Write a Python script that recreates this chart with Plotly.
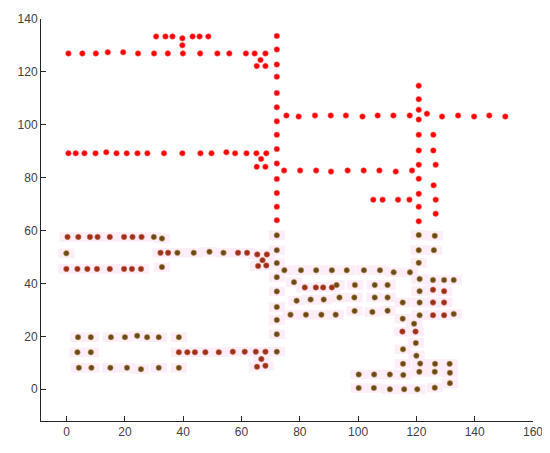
import plotly.graph_objects as go

# ---------------- data ----------------
red_x = [
    30.7, 33.9, 36.3, 39.7, 39.7, 43.2, 45.6, 48.6,
    0.6, 5.4, 10.0, 14.1, 19.4, 24.5, 30.0, 34.7, 39.9, 45.8, 51.7, 55.8, 61.5, 64.5, 68.2,
    66.5, 65.2, 68.2,
    72.1, 72.1, 72.1, 72.1, 72.1, 72.1, 72.1, 72.1, 72.1, 72.1, 72.1, 72.1, 72.1, 72.1,
    0.6, 3.1, 6.1, 9.9, 13.6, 17.1, 20.6, 24.3, 27.7, 33.4, 39.7, 45.9, 49.7, 54.8, 57.8, 61.7, 65.1, 68.5,
    66.7, 65.2, 68.2,
    75.4, 79.6, 85.2, 90.6, 95.8, 101.5, 106.7, 112.1, 117.7, 123.6, 128.8, 134.3, 139.8, 145.0, 150.5,
    120.8, 120.8, 120.8, 120.8, 120.8, 120.8, 120.8, 120.8, 120.8, 120.8, 120.8,
    125.8, 125.8, 126.6, 125.9, 126.6, 126.6,
    74.6, 80.1, 85.6, 90.7, 96.4, 101.9, 107.3, 112.9, 118.5,
    105.2, 108.4, 113.7, 117.6,
]
red_y = [
    133.4, 133.4, 133.4, 132.7, 130.1, 133.4, 133.4, 133.4,
    127.0, 127.0, 127.0, 127.4, 127.4, 127.0, 127.0, 127.0, 127.0, 127.0, 127.0, 127.0, 127.0, 127.0, 127.0,
    124.5, 122.2, 122.2,
    133.6, 128.5, 122.8, 118.2, 112.0, 106.6, 101.3, 96.2, 90.8, 85.4, 79.5, 74.2, 69.0, 63.9,
    89.2, 89.2, 89.2, 89.2, 89.6, 89.2, 89.2, 89.2, 89.2, 89.2, 89.2, 89.2, 89.2, 89.6, 89.2, 89.2, 89.2, 89.2,
    87.1, 84.1, 84.1,
    103.5, 103.1, 103.5, 103.5, 103.5, 103.1, 103.5, 103.5, 103.5, 104.2, 103.1, 103.5, 103.1, 103.5, 103.1,
    114.8, 109.7, 105.7, 102.0, 96.2, 90.3, 84.9, 79.6, 73.9, 69.0, 63.5,
    96.2, 90.3, 84.9, 77.1, 71.7, 66.4,
    82.7, 82.7, 82.7, 82.3, 82.7, 82.7, 82.7, 82.3, 82.7,
    71.7, 71.7, 71.7, 71.7,
]

brown_x = [
    72.1, 72.1, 72.1, 72.1, 72.1, 72.1, 72.1, 72.1, 72.1,
    29.9, 32.7, -0.1, 32.7,
    38.0, 43.6, 49.0, 53.8,
    3.9, 8.3, 15.2, 20.0, 24.2, 27.6, 31.6, 38.5,
    3.7, 8.3,
    4.2, 8.5, 15.0, 20.7, 25.5, 31.6, 38.5,
    74.7, 80.4, 85.6, 91.0, 96.1, 102.0, 107.5, 112.2, 117.8,
    78.0, 92.6, 98.9, 105.7, 110.1,
    78.9, 83.7, 88.2, 93.6, 98.7, 105.7, 110.1, 115.3,
    76.8, 82.1, 87.4, 92.3, 98.8, 104.9, 110.1, 115.3,
    120.8, 120.8, 120.8, 121.1, 121.1, 121.1, 121.1,
    126.3, 126.0, 125.7, 129.5, 132.8, 132.8,
    119.2, 119.8, 115.4, 120.0, 115.4, 121.3, 126.4, 131.4,
    100.2, 105.5, 110.9, 115.5, 121.0, 126.3, 131.5, 131.5,
    100.2, 105.4, 110.9, 115.8, 120.3, 126.3,
]
brown_y = [
    58.2, 52.6, 47.7, 42.4, 37.0, 31.1, 26.2, 20.8, 14.2,
    57.6, 57.0, 51.4, 46.2,
    51.6, 51.6, 52.0, 51.6,
    19.7, 19.7, 19.7, 19.7, 20.2, 19.7, 19.7, 19.7,
    14.0, 14.0,
    8.1, 8.1, 8.1, 8.1, 7.6, 8.1, 8.1,
    45.0, 45.0, 45.0, 45.0, 45.0, 45.0, 45.0, 44.2, 44.2,
    40.5, 39.4, 39.4, 39.4, 39.4,
    33.5, 33.9, 33.9, 34.7, 34.7, 34.7, 34.7, 32.8,
    28.2, 28.2, 28.2, 28.2, 29.6, 29.2, 29.7, 26.7,
    58.3, 52.6, 47.8, 41.7, 37.1, 32.8, 28.0,
    58.0, 52.6, 41.3, 41.3, 41.3, 28.5,
    24.8, 17.5, 15.1, 12.7, 9.6, 9.7, 9.6, 9.6,
    5.6, 5.6, 5.6, 5.4, 6.6, 6.6, 6.2, 2.3,
    0.5, 0.5, 0.0, 0.0, 0.0, 0.6,
]

rb_x = [
    0.3, 4.0, 8.0, 10.6, 14.8, 19.7, 22.6, 25.7,
    -0.1, 3.7, 7.1, 10.4, 14.8, 19.7, 22.4, 25.5,
    32.2, 34.8, 58.8, 61.9, 65.4, 68.7,
    67.2, 65.7, 68.5,
    38.5, 41.4, 44.0, 47.6, 52.2, 57.0, 61.1, 64.9, 68.2,
    66.8, 65.3, 68.2,
    81.7, 85.5, 88.0, 91.0,
    125.7, 129.5, 125.7, 129.5, 125.7, 129.5,
    115.2, 119.7,
]
rb_y = [
    57.6, 57.6, 57.6, 57.6, 57.6, 57.6, 57.6, 57.6,
    45.5, 45.5, 45.5, 45.5, 45.5, 45.5, 45.5, 45.5,
    51.6, 51.6, 51.6, 51.6, 51.0, 51.0,
    48.8, 46.6, 46.8,
    14.0, 14.0, 14.0, 14.0, 14.0, 14.2, 14.2, 14.2, 14.2,
    11.4, 8.5, 8.9,
    38.5, 38.5, 38.5, 38.5,
    37.6, 37.1, 32.8, 32.8, 28.0, 28.0,
    21.8, 21.8,
]

x_ticks = [0, 20, 40, 60, 80, 100, 120, 140, 160]
y_ticks = [0, 20, 40, 60, 80, 100, 120, 140]

# ---------------- figure ----------------
fig = go.Figure()

# light pink cells behind the brown points
half_w, half_h = 2.8, 1.8
shapes = []
for px, py in zip(brown_x + rb_x, brown_y + rb_y):
    shapes.append(dict(type="rect", xref="x", yref="y",
                       x0=px - half_w, x1=px + half_w, y0=py - half_h, y1=py + half_h,
                       fillcolor="#fdedf8", line=dict(width=0), layer="below"))

fig.add_trace(go.Scatter(x=red_x, y=red_y, mode="markers",
                         marker=dict(size=5.5, color="#ff0000",
                                     line=dict(width=0.6, color="#ff5a5a")),
                         showlegend=False, hoverinfo="x+y"))
fig.add_trace(go.Scatter(x=brown_x, y=brown_y, mode="markers",
                         marker=dict(size=5.5, color="#6b4a14",
                                     line=dict(width=0.6, color="#b8965a")),
                         showlegend=False, hoverinfo="x+y"))
fig.add_trace(go.Scatter(x=rb_x, y=rb_y, mode="markers",
                         marker=dict(size=5.5, color="#9a3218",
                                     line=dict(width=0.6, color="#d06a50")),
                         showlegend=False, hoverinfo="x+y"))

axis_common = dict(showline=True, linecolor="#262626", linewidth=1,
                   ticks="inside", ticklen=5, tickcolor="#262626", tickwidth=1,
                   showgrid=False, zeroline=False, automargin=False,
                   tickfont=dict(family="Liberation Sans, Arial, sans-serif", size=12, color="#404040"),
                   mirror=False)

# the page body adds an 8 px offset, so the figure is sized to the remaining area
fig.update_layout(
    width=542, height=445,
    margin=dict(l=33, r=17, t=11, b=32),
    plot_bgcolor="white", paper_bgcolor="white",
    shapes=shapes,
    xaxis=dict(range=[-8.8, 160], tickvals=x_ticks, **axis_common),
    yaxis=dict(range=[-12, 140], tickvals=y_ticks, **axis_common),
)

fig.write_html("out.html")
